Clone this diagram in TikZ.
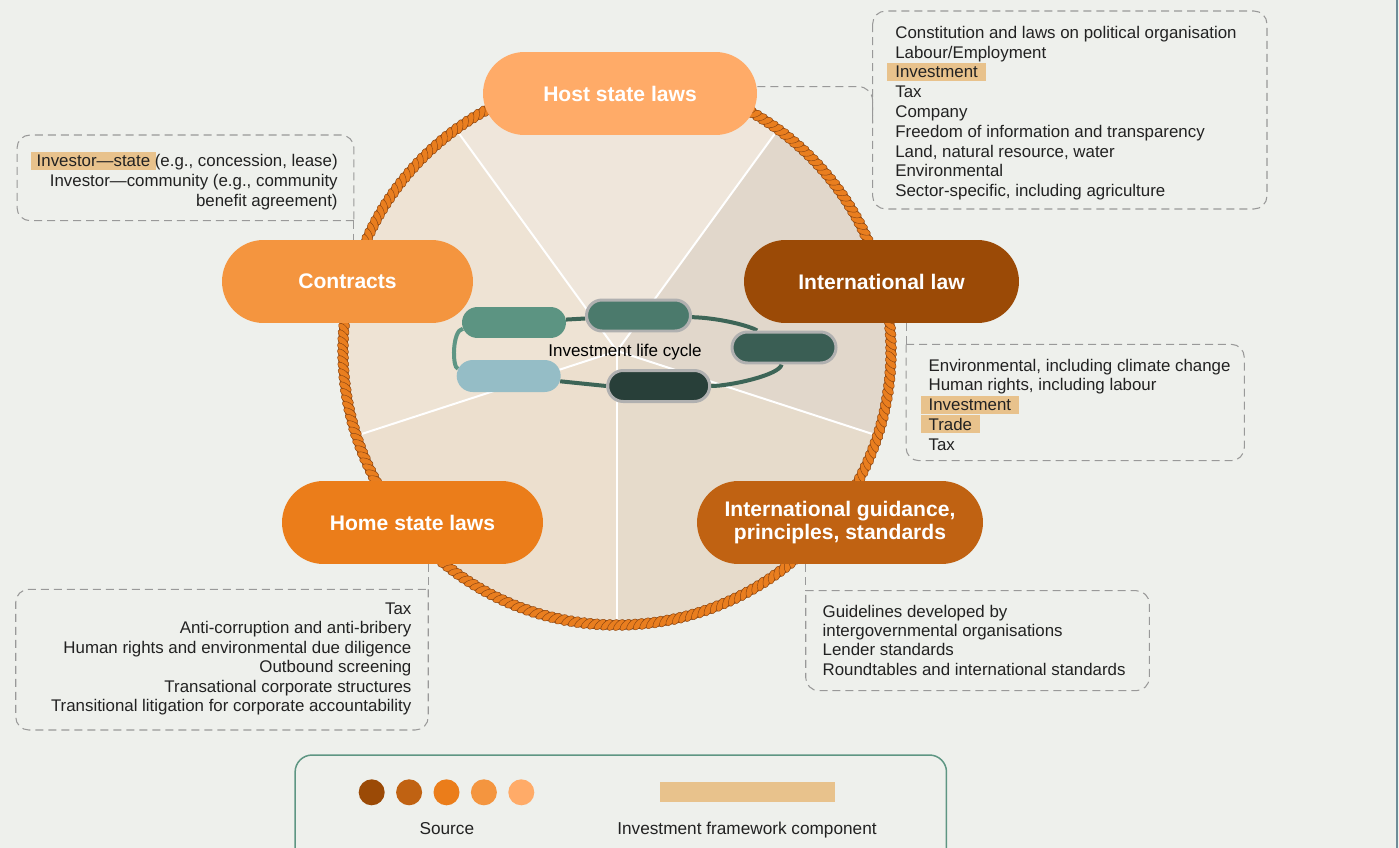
\documentclass[tikz,border=0pt]{standalone}
\usepackage{fontspec}
\setmainfont{Liberation Sans}
\usetikzlibrary{shapes.misc,decorations.markings}

\definecolor{paper}{HTML}{EEF0EC}
\definecolor{ink}{HTML}{222222}
\definecolor{srcA}{HTML}{9B4A06}
\definecolor{srcB}{HTML}{C06212}
\definecolor{srcC}{HTML}{EB7D1A}
\definecolor{srcD}{HTML}{F4953F}
\definecolor{srcE}{HTML}{FFAB68}
\definecolor{hlcol}{HTML}{E8C28C}
\definecolor{dashgrey}{HTML}{999999}
\definecolor{secT}{HTML}{EFE6DB}
\definecolor{secL}{HTML}{EEE3D4}
\definecolor{secBL}{HTML}{ECDFCE}
\definecolor{secBR}{HTML}{E6DBCB}
\definecolor{secR}{HTML}{E1D7CB}
\definecolor{ropeorange}{HTML}{E97E1F}
\definecolor{ropedark}{HTML}{8A4512}
\definecolor{stageA}{HTML}{5C9482}
\definecolor{stageB}{HTML}{4B7A6C}
\definecolor{stageC}{HTML}{3A5E54}
\definecolor{stageD}{HTML}{283F39}
\definecolor{stageE}{HTML}{95BDC6}
\definecolor{rimgrey}{HTML}{B0B0B0}
\definecolor{loopdark}{HTML}{3D6557}
\definecolor{looplight}{HTML}{5E9684}
\definecolor{legendgreen}{HTML}{5E9683}
\definecolor{edgeblue}{HTML}{6E8C97}

\newcommand{\listfont}{\fontsize{9.6}{11.5}\selectfont}
\newcommand{\headfont}{\bfseries\fontsize{12}{13}\selectfont}
\newcommand{\legendfont}{\fontsize{9.8}{11.5}\selectfont}
\setlength{\fboxsep}{0pt}
% highlighted framework component
\newcommand{\hlmark}[2][0.16cm]{\kern-#1\relax\colorbox{hlcol}{\hspace{#1}\rule[-0.064cm]{0pt}{0.36cm}#2\hspace{#1}}\kern-#1\relax}

\pgfdeclarelayer{bg}
\pgfdeclarelayer{wires}
\pgfsetlayers{bg,wires,main}

\begin{document}
\begin{tikzpicture}[x=0.02cm,y=0.02cm,
  pill/.style={rounded rectangle, minimum height=1.66cm, inner sep=0, text=white, font=\headfont, align=center},
  stage/.style={rounded rectangle, minimum height=0.62cm, minimum width=2.08cm, inner sep=0},
  rimmed/.style={draw=rimgrey, line width=0.06cm},
  frame/.style={rectangle, inner sep=0, outer sep=0},
  dashbox/.style={draw=dashgrey, line width=0.6pt, dash pattern=on 0.16cm off 0.1cm, rounded corners=0.26cm},
  listline/.style={inner sep=0, text=ink, font=\listfont},
  spoke/.style={white, line width=0.04cm},
  ropeknot/.style={fill=ropeorange, draw=ropedark, line width=0.25pt, rotate=45},
  loopline/.style={line width=0.08cm},
  dot/.style={circle, minimum size=0.52cm, inner sep=0},
]
\useasboundingbox (0,0) rectangle (1399,-848);
\coordinate (hub) at (617,-351);

%% wheel
\begin{pgfonlayer}{bg}
  \fill[paper] (0,0) rectangle (1399,-848);
  \foreach \a/\col in {54/secT,126/secL,198/secBL,270/secBR,342/secR}
    \fill[\col] (hub) -- ++(\a:274) arc [start angle=\a, end angle=\a+72, radius=274] -- cycle;
  \foreach \a in {54,126,198,270,342}
    \draw[spoke] (hub) -- ++(\a:274);
  \draw[ropedark, line width=0.19cm] (hub) circle [radius=274];
  \draw[ropeorange, line width=0.16cm] (hub) circle [radius=274];
  \path[postaction={decorate}, decoration={markings, mark=between positions 0 and 1 step 0.13cm with {\draw[ropeknot] (0,0) ellipse [x radius=0.14cm, y radius=0.065cm];}}] (hub) circle [radius=274];
  \draw[edgeblue, line width=0.05cm] (1397,0) -- (1397,-848);
\end{pgfonlayer}

%% life cycle
\node[stage, fill=stageA, minimum width=2.08cm] (sA) at (514,-322.5) {};
\node[stage, fill=stageB, rimmed] (sB) at (638.5,-315.5) {};
\node[stage, fill=stageC, rimmed] (sC) at (784,-347.5) {};
\node[stage, fill=stageD, rimmed, minimum width=2.04cm] (sD) at (658.7,-386) {};
\node[stage, fill=stageE, minimum height=0.64cm] (sE) at (508.7,-376) {};
\node[inner sep=0, font=\fontsize{9.7}{11}\selectfont, anchor=base] (cycle) at (625,-356) {Investment life cycle};
\begin{pgfonlayer}{wires}
  \draw[loopline, loopdark] (sA) -- (sB);
  \draw[loopline, loopdark] (sB) .. controls (720,-318) and (750,-326) .. (sC);
  \draw[loopline, loopdark] (sC) .. controls (780,-375) and (730,-386) .. (sD);
  \draw[loopline, loopdark] (sD.west) -- (sE);
  \draw[loopline, looplight] (sE) .. controls (452,-368) and (452,-330) .. (sA);
\end{pgfonlayer}

%% sources
\node[pill, fill=srcE, minimum width=5.48cm] (host) at (620,-93.5) {Host state laws};
\node[pill, fill=srcD, minimum width=5.02cm] (contracts) at (347.5,-281.5) {Contracts};
\node[pill, fill=srcA, minimum width=5.5cm] (intl) at (881.5,-281.5) {International law};
\node[pill, fill=srcC, minimum width=5.22cm] (home) at (412.5,-522.5) {Home state laws};
\node[pill, fill=srcB, minimum width=5.72cm] (guidance) at (840,-522.5) {International guidance,\\principles, standards};

%% boxes
\node[frame, minimum width=7.888cm, minimum height=3.96cm] (hbox) at (1069.8,-110) {};
\node[frame, minimum width=6.74cm, minimum height=1.714cm] (cbox) at (185.5,-177.85) {};
\node[frame, minimum width=6.766cm, minimum height=2.328cm] (ibox) at (1075.15,-402.5) {};
\node[frame, minimum width=8.252cm, minimum height=2.814cm] (mbox) at (222,-659.65) {};
\node[frame, minimum width=6.872cm, minimum height=2cm] (gbox) at (977.5,-640.7) {};

\draw[dashbox] (hbox.north west) rectangle (hbox.south east);
\draw[dashbox, rounded corners=0.28cm] ([yshift=0.136cm]host.east) -- ([yshift=0.136cm]host.east -| hbox.west) -- ([yshift=-0.6cm]host.east -| hbox.west);
\draw[dashbox] (cbox.south east) -- (cbox.south west) -- (cbox.north west) -- (cbox.north east) -- (cbox.south east);
\draw[dashbox] (cbox.south east) -- (cbox.south east |- contracts.north);
\draw[dashbox] (ibox.north west) -- (ibox.north east) -- (ibox.south east) -- (ibox.south west) -- (ibox.north west);
\draw[dashbox] (ibox.north west |- intl.south) -- (ibox.north west);
\draw[dashbox] (mbox.north east) -- (mbox.south east) -- (mbox.south west) -- (mbox.north west) -- (mbox.north east);
\draw[dashbox] (mbox.north east |- home.south) -- (mbox.north east);
\draw[dashbox] (gbox.north west) -- (gbox.north east) -- (gbox.south east) -- (gbox.south west) -- (gbox.north west);
\draw[dashbox] (gbox.north west |- guidance.south) -- (gbox.north west);

\foreach \entry [count=\i from 0] in {Constitution and laws on political organisation, Labour/Employment, \hlmark{Investment}, Tax, Company, Freedom of information and transparency, {Land, natural resource, water}, Environmental, {Sector-specific, including agriculture}}
  \node[listline, anchor=base west] (host-\i) at (895,{-38.3-19.8*\i}) {\entry};
\foreach \entry [count=\i from 0] in {{\hlmark[0.11cm]{Investor—state} (e.g., concession, lease)}, {Investor—community (e.g., community}, {benefit agreement)}}
  \node[listline, anchor=base east] (contract-\i) at (338,{-166.7-20*\i}) {\entry};
\foreach \entry [count=\i from 0] in {{Environmental, including climate change}, {Human rights, including labour}, \hlmark{Investment}, \hlmark{Trade}, Tax}
  \node[listline, anchor=base west] (intl-\i) at (928.3,{-371-19.75*\i}) {\entry};
\foreach \entry [count=\i from 0] in {Tax, Anti-corruption and anti-bribery, Human rights and environmental due diligence, Outbound screening, Transational corporate structures, Transitional litigation for corporate accountability}
  \node[listline, anchor=base east] (home-\i) at (411.7,{-614-19.55*\i}) {\entry};
\foreach \entry [count=\i from 0] in {Guidelines developed by, intergovernmental organisations, Lender standards, Roundtables and international standards}
  \node[listline, anchor=base west] (guide-\i) at (822.3,{-617.3-19.25*\i}) {\entry};

%% legend
\node[frame, draw=legendgreen, line width=0.03cm, rounded corners=0.34cm, minimum width=13.03cm, minimum height=2.9cm] (legend) at (620.8,-827.5) {};
\foreach \col [count=\i from 0] in {srcA,srcB,srcC,srcD,srcE}
  \node[dot, fill=\col] (dot\i) at ({371.7+37.4*\i},-792.3) {};
\node[frame, fill=hlcol, minimum width=3.51cm, minimum height=0.388cm] (swatch) at (747.3,-792) {};
\node[listline, font=\legendfont, anchor=base] (srclabel) at (446.8,-834) {Source};
\node[listline, font=\legendfont, anchor=base] (swatchlabel) at (747,-834) {Investment framework component};
\end{tikzpicture}
\end{document}
